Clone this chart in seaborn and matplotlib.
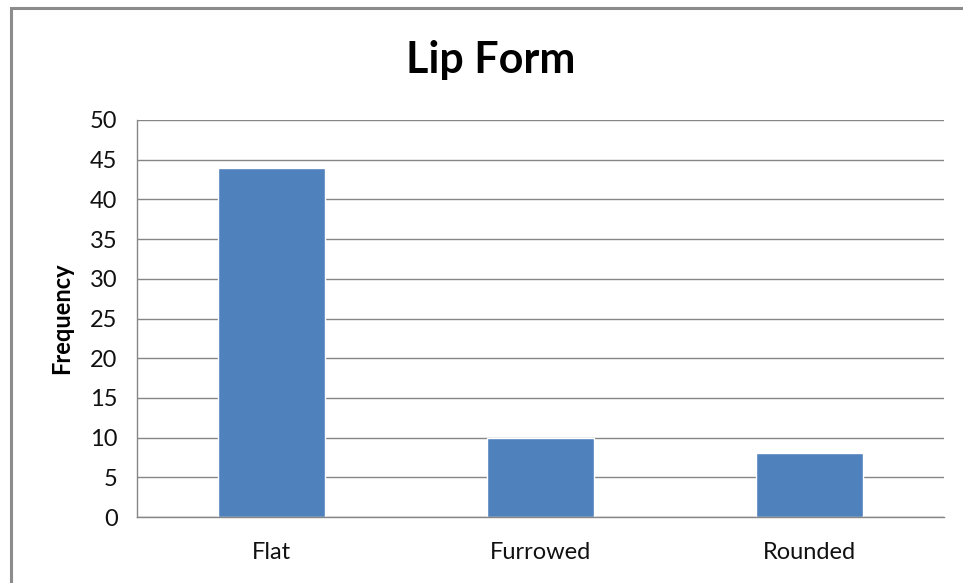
import matplotlib
matplotlib.use("Agg")
import matplotlib.pyplot as plt
from matplotlib.patches import Rectangle
import seaborn as sns
import pandas as pd

categories = ["Flat", "Furrowed", "Rounded"]
frequency = [44, 10, 8]
y_ticks = [0, 5, 10, 15, 20, 25, 30, 35, 40, 45, 50]

sns.set_style("white")
plt.rcParams["font.family"] = ["Lato", "DejaVu Sans"]
plt.rcParams["text.color"] = "black"

W, H = 963, 583
fig = plt.figure(figsize=(W / 100, H / 100), dpi=100)

# outer chart frame
fig.patches.append(Rectangle((11 / W, -0.05), 1.1, (H - 8) / H + 0.05,
                             transform=fig.transFigure, fill=False,
                             edgecolor="#8c8c8c", linewidth=2.2, zorder=0))

ax = fig.add_axes([137 / W, (H - 517) / H, 807 / W, 397 / H])
df = pd.DataFrame({"Lip": categories, "Frequency": frequency})
sns.barplot(data=df, x="Lip", y="Frequency", color="#4F81BD",
            saturation=1, width=0.4, ax=ax, zorder=2)

grid_c = "#868686"
ax.set_ylim(0, 50)
ax.set_xlim(-0.5, 2.5)
ax.set_yticks(y_ticks)
ax.yaxis.grid(True, color=grid_c, linewidth=1)
ax.set_axisbelow(True)
for s in ["top", "right"]:
    ax.spines[s].set_visible(False)
for s in ["left", "bottom"]:
    ax.spines[s].set_color(grid_c)
    ax.spines[s].set_linewidth(1)

ax.set_xticks([-0.5, 0.5, 1.5, 2.5], minor=True)
ax.tick_params(axis="x", which="major", length=0, pad=18, labelsize=17, labelcolor="#111111")
ax.tick_params(axis="x", which="minor", length=7, color=grid_c, direction="out")
ax.tick_params(axis="y", length=8, color=grid_c, direction="out", pad=6,
               labelsize=17, labelcolor="#111111")

ax.set_xlabel("")
ax.set_ylabel("Frequency", fontsize=17, fontweight="bold", labelpad=12, color="black")
fig.text(491 / W, 1 - 60 / H, "Lip Form", ha="center", va="center",
         fontsize=31, fontweight="bold", color="black")

fig.savefig("out.png", dpi=100)
